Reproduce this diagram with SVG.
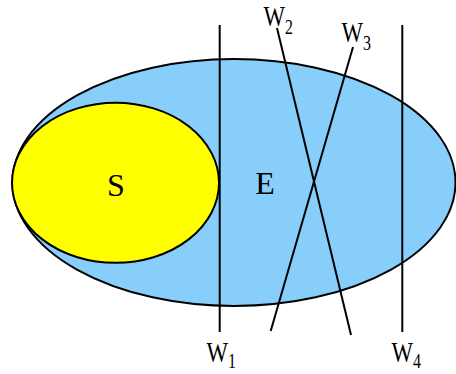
<svg xmlns="http://www.w3.org/2000/svg" width="456" height="374" viewBox="0 0 456 374">
<style>
.shape{stroke:#000;stroke-width:2}
.ln{stroke:#000;stroke-width:2;fill:none}
.lbl{font-family:"Liberation Serif","Times New Roman",serif;font-size:32px;fill:#000}
.wl{font-family:"Liberation Serif","Times New Roman",serif;font-size:30px;fill:#000}
.sub{font-size:21px}
</style>
<rect width="456" height="374" fill="#fff"/>
<g id="E">
<ellipse class="shape" cx="234" cy="182.5" rx="221.5" ry="123.5" fill="#87CEFA"/>
<text class="lbl" x="265" y="194" text-anchor="middle">E</text>
</g>
<g id="S">
<ellipse class="shape" cx="115.5" cy="182.8" rx="103.5" ry="80" fill="#FFFF00"/>
<text class="lbl" x="116" y="196" text-anchor="middle">S</text>
</g>
<g id="connectors">
<g id="W1">
<line class="ln" x1="219.7" y1="25" x2="219.7" y2="332"/>
<text class="wl" transform="translate(206.5,362) scale(0.76,1)">W<tspan class="sub" dy="6">1</tspan></text>
</g>
<g id="W2">
<line class="ln" x1="277" y1="28" x2="351" y2="335"/>
<text class="wl" transform="translate(263.5,26) scale(0.76,1)">W<tspan class="sub" dy="8">2</tspan></text>
</g>
<g id="W3">
<line class="ln" x1="353" y1="47" x2="270.7" y2="331"/>
<text class="wl" transform="translate(341.5,42) scale(0.76,1)">W<tspan class="sub" dy="8">3</tspan></text>
</g>
<g id="W4">
<line class="ln" x1="402.3" y1="25" x2="402.3" y2="332"/>
<text class="wl" transform="translate(391.5,362) scale(0.76,1)">W<tspan class="sub" dy="6">4</tspan></text>
</g>
</g>
</svg>
